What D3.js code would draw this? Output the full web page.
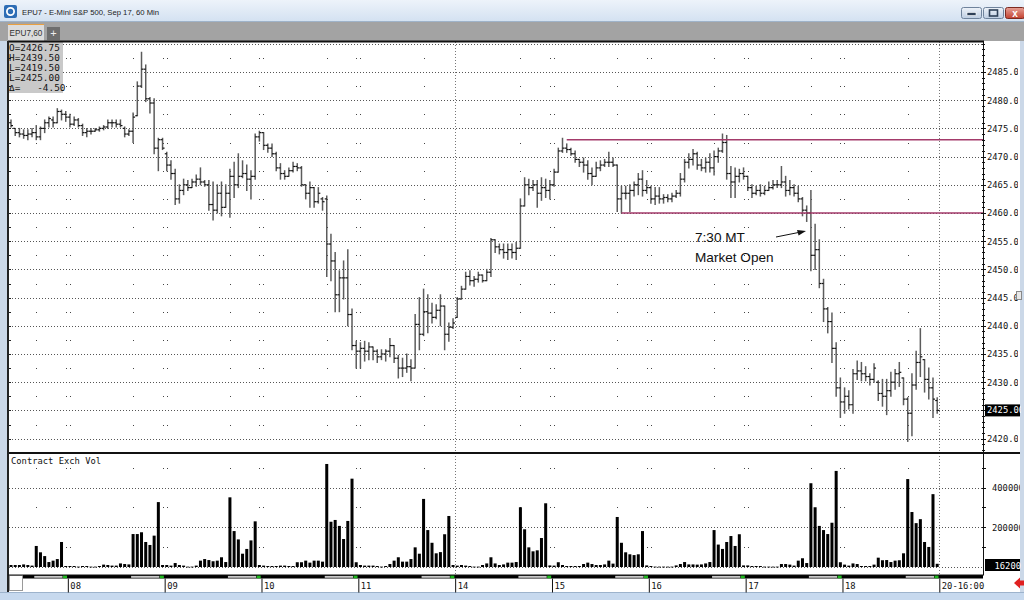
<!DOCTYPE html>
<html><head><meta charset="utf-8">
<script src="https://cdn.jsdelivr.net/npm/d3@7"></script>
<style>
html,body{margin:0;padding:0;background:#fff;overflow:hidden}
svg{display:block}
</style></head><body>
<svg id="c" width="1024" height="600"></svg>
<script>
// ---------- DATA ----------
// hourly bars [open, high, low, close]
const bars = [
[2476,2476.5,2475.25,2475.5],[2475,2475,2473.75,2474.25],[2474.25,2475,2473.5,2474],[2474,2474.75,2473.25,2473.75],
[2473.75,2474.75,2473,2474],[2474,2475,2473.5,2474.25],[2474.25,2475.5,2473,2473.5],[2473.5,2475.25,2473,2475],
[2475,2476.5,2474.25,2476],[2476,2477,2475.25,2476.75],[2476.5,2477,2475.25,2476],[2476,2478.5,2476,2478],
[2478,2478.25,2476.5,2477.5],[2477.5,2478,2476.25,2477],[2477,2477.5,2475.25,2475.75],[2475.75,2477,2475.5,2476.5],
[2476.5,2476.75,2475.25,2475.5],[2475.5,2475.75,2473.75,2474.25],[2474.25,2475,2473.5,2474.5],[2474.5,2475,2474,2474.5],
[2474.5,2475,2474.5,2474.75],[2474.75,2475.25,2474.5,2475],[2475,2475.5,2474.75,2475.25],[2475.25,2476.5,2475,2476],
[2476,2476.5,2475.25,2476],[2476,2476.5,2475.25,2475.75],[2475.75,2476.5,2475.25,2475.5],[2475,2475.25,2473.5,2474],
[2474,2474.75,2473.75,2474.5],[2474.5,2477.75,2472.5,2477],[2477.25,2483.25,2477.25,2482.5],[2482.5,2488.5,2482.25,2485.5],
[2485.5,2486.25,2479.75,2480.25],[2480.25,2480.5,2477.75,2479.5],[2479.5,2480.25,2470.5,2471.5],[2471.5,2473.25,2467.5,2473],
[2473,2473.25,2471.25,2471.5],[2470.5,2470.75,2467.5,2468.5],[2468.5,2469.25,2466,2467],[2467,2467.75,2461.5,2462.5],
[2462.5,2465,2461.75,2464],[2464,2466,2463.25,2465],[2465,2465.75,2464,2464.5],[2464.5,2466,2464.5,2465.5],
[2465.5,2466.75,2464.75,2466],[2466,2468,2465,2465.5],[2465.5,2465.75,2464.75,2465],[2465,2465.75,2460.5,2461.5],
[2461.5,2465.5,2458.75,2460.5],[2460.5,2465,2460,2463.5],[2463.5,2465.5,2459.5,2461],[2461,2465,2461,2463.5],
[2463.5,2467.75,2459.25,2466.5],[2466.5,2469,2462.75,2465],[2465,2470.5,2464.5,2466.5],[2466.5,2469.25,2466.25,2467],
[2467,2468.5,2464,2466],[2466,2467.5,2462.5,2466.5],[2466.5,2474,2466,2473.5],[2473.5,2474.5,2472.75,2474.25],
[2474.25,2474.25,2471.25,2472],[2472,2472.25,2470.75,2471.5],[2471.5,2472.25,2470,2470.5],[2470.5,2470.75,2467.5,2468],
[2468,2468.75,2466,2467],[2467,2467.5,2466,2466.5],[2466.5,2468,2466.5,2467.5],[2467.5,2469,2467.25,2468.25],
[2468.25,2468.75,2467.5,2468],[2468,2468.25,2464.75,2465],[2465,2465,2462.5,2463.5],[2463.5,2465.5,2461,2464.5],
[2464.5,2464.5,2461,2462],[2462,2464.5,2461.75,2463.5],[2462.5,2462.75,2460.5,2462],[2462.5,2463,2448.75,2454.5],
[2454.5,2456.25,2448,2451.5],[2451.5,2453,2442.5,2445.5],[2445.5,2449.75,2442.5,2448.5],[2448.5,2451.5,2444.75,2448.5],
[2448.5,2453.5,2440,2442],[2442,2443,2435.75,2436.5],[2436.5,2437.25,2432.5,2435.5],[2435.5,2437,2432.5,2436],
[2436,2437.25,2433.75,2435.5],[2435.5,2437,2434,2436.25],[2436.25,2436.25,2434,2435.5],[2435.5,2435.75,2433.5,2434.5],
[2434.5,2435.75,2434,2435],[2435,2435.75,2433.75,2435.5],[2435.5,2437.75,2434.5,2436.5],[2436.5,2436.5,2433.5,2434.25],
[2434.25,2434.75,2430.75,2432.5],[2432.5,2434.25,2431,2432.5],[2432.5,2435,2431.75,2432.75],[2432.75,2434,2430.25,2432.5],
[2432.5,2442,2432.5,2440.25],[2440.25,2445,2435.75,2438.5],[2438.5,2446.5,2438.25,2442.5],[2442.5,2445.5,2438.75,2442.25],
[2442.25,2444,2440.5,2441.5],[2441.5,2443.75,2441.25,2442.75],[2442.75,2445.5,2440,2443.5],[2443.5,2443.5,2435.75,2438.5],
[2438.5,2440.5,2437.25,2439.75],[2439.75,2441.25,2439.5,2440.5],[2441.5,2445,2441.5,2444.75],[2444.75,2447,2444.75,2446.5],
[2446.5,2449.5,2446.5,2448.75],[2448.75,2449.75,2447.25,2448],[2448,2448.75,2447,2448.25],[2448.25,2449.5,2447.75,2449],
[2449,2449,2447.75,2448],[2448,2450,2448,2449.5],[2449.5,2455.5,2448.75,2455.25],[2455.25,2455.25,2453,2454],
[2454,2454.5,2452.75,2453.5],[2453.5,2454.5,2452,2453],[2453,2454.5,2451.75,2453.5],[2453.5,2454.5,2452,2453],
[2453,2454.75,2451.75,2453.75],[2453.75,2462.5,2453.75,2461.25],[2461.25,2466.25,2461.25,2465],[2465,2466,2463.25,2464.5],
[2464.5,2465.75,2464,2465],[2465,2465.75,2461,2463.5],[2463.5,2466.25,2462.25,2464.5],[2464.5,2466,2462.75,2464],
[2464,2465.75,2462.5,2465],[2465,2467.75,2464.75,2467.25],[2467.25,2471.5,2467.25,2471],[2471,2473.25,2470.75,2471.5],
[2471.5,2472.25,2470.75,2471.25],[2471.25,2471.5,2470.25,2470.5],[2470.5,2471,2469,2469.5],[2469.5,2469.5,2468.25,2469],
[2469,2469.75,2467.25,2468.5],[2468.5,2469.25,2466,2467],[2467,2468,2465,2466.5],[2466.5,2469,2466.5,2468],
[2468,2469.25,2467.5,2468.5],[2468.5,2469.5,2468.25,2469],[2469,2470.75,2468.25,2469],[2469,2469.75,2468.25,2468.5],
[2468.5,2468.5,2460.25,2462.5],[2462.5,2464.75,2460,2463.5],[2463.5,2464.75,2462.5,2463.5],[2463.5,2465,2460.25,2464],
[2464,2465.5,2463,2465],[2465,2467,2463.25,2466],[2466,2467.5,2463,2464],[2464,2465.75,2463.5,2464.5],
[2464.5,2464.75,2461.75,2462.5],[2462.5,2464.5,2461.5,2463],[2463,2464.5,2461.75,2462.5],[2462.5,2463.25,2461.75,2462.75],
[2462.75,2463.25,2462,2462.5],[2462.5,2463.5,2462,2463],[2463,2464,2462.75,2463.5],[2463.5,2467,2463,2466],
[2466,2469.5,2465.5,2469],[2469,2470.5,2468,2469.5],[2469.5,2471.25,2468.5,2470.5],[2470.5,2470.75,2467.75,2468.5],
[2468.5,2469.5,2467.5,2468],[2468,2469.75,2467.25,2469],[2469,2470.5,2467.25,2468],[2468,2471,2466.75,2470],
[2470,2471.5,2469,2471],[2471,2474,2470.75,2472.5],[2472.5,2473.75,2466,2467],[2467,2468.25,2462.75,2465.5],
[2465.5,2468,2462.75,2466.5],[2466.5,2467.75,2465.5,2467],[2467,2468,2466,2466.5],[2466.5,2466.5,2464,2464.5],
[2464.5,2465,2462.75,2463.5],[2463.5,2464.75,2463.25,2464],[2464,2465,2463,2463.5],[2463.5,2464.75,2463.25,2464],
[2464,2465.5,2464,2464.5],[2464.5,2465.75,2464.25,2465],[2465,2465.75,2464.5,2465],[2465,2468.25,2464.5,2465.5],
[2465.5,2466.5,2463,2464],[2464,2465.75,2463.25,2464.5],[2464.5,2465,2463,2463.5],[2463.5,2464.75,2462,2462.5],
[2462.5,2462.75,2459.5,2460.5],[2460.5,2461.25,2458.5,2460],[2460,2464,2449.75,2452.5],[2452.5,2458,2450,2453.5],
[2453.5,2455.25,2446.75,2447.5],[2447.5,2448.25,2440.75,2443],[2443,2443.25,2438.75,2440.75],[2440.75,2442.25,2433.5,2436],
[2436,2437,2427.5,2429],[2429,2430.75,2423.75,2426.5],[2426.5,2429,2424.5,2427.5],[2427.5,2428.5,2425.25,2426],
[2426,2432.25,2424.5,2431.5],[2431.5,2433.75,2430.5,2432],[2432,2433.5,2430.25,2431.5],[2431.5,2432.75,2430.25,2431],
[2431,2431.5,2429.5,2430.5],[2430.5,2433.25,2430,2432.5],[2430,2430.25,2426.75,2428],[2428,2430.5,2425.75,2427.5],
[2427.5,2430.5,2424.25,2428.5],[2428.5,2431.75,2427.5,2430],[2430,2432.25,2428.75,2431.5],[2431.5,2433.5,2429.25,2431.75],
[2430.75,2430.75,2426,2427],[2427,2427.25,2419.5,2424.5],[2424.5,2431.5,2420.5,2429.5],[2429.5,2435.5,2428.75,2433.5],
[2433.5,2439.5,2431,2434.5],[2434,2434,2428.25,2430.5],[2430.5,2432.5,2427,2429],[2429,2430.75,2423.75,2427],
[2426.75,2427.25,2424.5,2425]
];
// contract volume per bar
const volumes = [
10000,10000,10000,13000,10000,7000,106000,74000,55000,25000,32000,40000,126000,5000,
5000,5000,2000,5000,5000,2000,2000,5000,12000,10000,7000,7000,18000,15000,13000,
166000,166000,175000,126000,111000,158000,327000,10000,
10000,7000,20000,10000,7000,2000,2000,7000,32000,40000,35000,29000,32000,49000,25000,
351000,181000,139000,67000,91000,134000,230000,10000,
7000,5000,5000,5000,7000,7000,5000,5000,24000,24000,32000,22000,32000,32000,27000,
519000,228000,237000,207000,141000,232000,445000,24000,
10000,7000,7000,7000,5000,2000,5000,15000,32000,49000,27000,27000,40000,99000,67000,
343000,186000,122000,69000,75000,165000,257000,10000,
7000,10000,7000,5000,2000,2000,10000,18000,49000,18000,10000,13000,22000,22000,25000,
301000,190000,99000,79000,84000,146000,321000,8000,
7000,24000,10000,5000,5000,5000,5000,15000,22000,15000,10000,10000,13000,32000,17000,
252000,122000,74000,64000,60000,64000,181000,8000,
5000,2000,2000,2000,2000,2000,8000,15000,25000,13000,13000,12000,13000,18000,25000,
186000,113000,91000,126000,156000,106000,165000,8000,
8000,5000,5000,5000,2000,2000,2000,2000,15000,15000,12000,7000,32000,44000,20000,
422000,301000,207000,186000,166000,223000,484000,24000,
12000,7000,18000,15000,5000,5000,5000,12000,47000,34000,35000,25000,32000,34000,69000,
443000,277000,221000,241000,126000,101000,367000,16200
];
const priceTicks = [2420,2425,2430,2435,2440,2445,2450,2455,2460,2465,2470,2475,2480,2485];
const volumeTicks = [200000, 400000];
const dayStarts = [14,37,60,83,106,129,152,175,198,221];       // bar index where each session begins
const dayLabels = ["08","09","10","11","14","15","16","17","18","20-16:00"];
const weekStarts = [106,221];
const rthOpens = [6,29,52,75,98,121,144,167,190,213];          // first regular-hours bar each day
const ohlcInfo = ["O=2426.75","H=2439.50","L=2419.50","L=2425.00","\u0394=   -4.50"];
const lastPrice = 2425.00, lastVolume = 16200;
const levelPrices = [2473, 2460];       // horizontal resistance / support
const levelStartBars = [132, 145];
const titleText = "EPU7 - E-Mini S&P 500, Sep 17, 60 Min";
const tabText = "EPU7,60";
const volumeTitle = "Contract Exch Vol";
const noteLines = ["7:30 MT", "Market Open"];

// ---------- LAYOUT ----------
const svg = d3.select("#c");
const L = 8, R = 983, PT = 42, PB = 453, VB = 575;
const x = d3.scaleLinear().domain([0, 220]).range([11, 937.2]);
const y = d3.scaleLinear().domain([2420, 2485]).range([438.6, 72]);
const yv = d3.scaleLinear().domain([0, 400000]).range([567, 487.6]);
const mono = "'DejaVu Sans Mono', monospace";
const sans = "'Liberation Sans', Arial, sans-serif";

const defs = svg.append("defs");
const tg = defs.append("linearGradient").attr("id","tbar").attr("x1",0).attr("y1",0).attr("x2",0).attr("y2",1);
tg.append("stop").attr("offset","0%").attr("stop-color","#edf3fa");
tg.append("stop").attr("offset","100%").attr("stop-color","#d3e1f1");
const bg = defs.append("linearGradient").attr("id","btn").attr("x1",0).attr("y1",0).attr("x2",0).attr("y2",1);
bg.append("stop").attr("offset","0%").attr("stop-color","#eef3f9");
bg.append("stop").attr("offset","100%").attr("stop-color","#bccde2");
const cg = defs.append("linearGradient").attr("id","cbtn").attr("x1",0).attr("y1",0).attr("x2",0).attr("y2",1);
cg.append("stop").attr("offset","0%").attr("stop-color","#e6a196");
cg.append("stop").attr("offset","100%").attr("stop-color","#c2402f");
defs.append("clipPath").attr("id","axclip").append("rect").attr("x",984).attr("y",40).attr("width",37).attr("height",540);
defs.append("clipPath").attr("id","plotclip").append("rect").attr("x",L+1).attr("y",PT).attr("width",R-L-1).attr("height",VB-PT);

// window chrome
svg.append("rect").attr("x",0).attr("y",0).attr("width",1024).attr("height",600).attr("fill","#fff");
svg.append("rect").attr("x",0).attr("y",0).attr("width",1024).attr("height",22).attr("fill","url(#tbar)");
svg.append("line").attr("x1",0).attr("x2",1024).attr("y1",21.5).attr("y2",21.5).attr("stroke","#9fb3c9");
svg.append("rect").attr("x",4).attr("y",5).attr("width",13).attr("height",13).attr("rx",2).attr("fill","#2d6db5");
svg.append("circle").attr("cx",10.5).attr("cy",11.5).attr("r",3.6).attr("fill","none").attr("stroke","#fff").attr("stroke-width",1.8);
svg.append("text").attr("x",22).attr("y",15).attr("font-family",sans).attr("font-size",7.7).attr("fill","#1b1b1b").text(titleText);
// window buttons
svg.append("rect").attr("x",961.5).attr("y",7.5).attr("width",20).attr("height",11).attr("rx",2).attr("fill","url(#btn)").attr("stroke","#6f839c");
svg.append("rect").attr("x",967).attr("y",12.5).attr("width",9).attr("height",3).attr("fill","#2e4058").attr("stroke","#fff").attr("stroke-width",0.6);
svg.append("rect").attr("x",983.5).attr("y",7.5).attr("width",20).attr("height",11).attr("rx",2).attr("fill","url(#btn)").attr("stroke","#6f839c");
svg.append("rect").attr("x",989.5).attr("y",10).attr("width",8).attr("height",6).attr("fill","none").attr("stroke","#2e4058").attr("stroke-width",1.6);
svg.append("rect").attr("x",1005.5).attr("y",7.5).attr("width",19).attr("height",11).attr("rx",2).attr("fill","url(#cbtn)").attr("stroke","#7c2a20");
svg.append("text").attr("x",1015).attr("y",16.5).attr("text-anchor","middle").attr("font-family",sans).attr("font-weight","bold").attr("font-size",10).attr("fill","#fff").text("x");

// tab bar
svg.append("rect").attr("x",0).attr("y",22).attr("width",1024).attr("height",19).attr("fill","#a3a3a3");
svg.append("rect").attr("x",8).attr("y",24).attr("width",36).attr("height",17).attr("fill","#dcdcdc");
svg.append("line").attr("x1",8).attr("x2",44).attr("y1",24.5).attr("y2",24.5).attr("stroke","#eaa040");
svg.append("text").attr("x",26).attr("y",36).attr("text-anchor","middle").attr("font-family",sans).attr("font-size",8.2).attr("fill","#333").text(tabText);
svg.append("rect").attr("x",47).attr("y",27).attr("width",13).attr("height",13).attr("fill","#6e6e6e");
svg.append("text").attr("x",53.5).attr("y",37).attr("text-anchor","middle").attr("font-family",sans).attr("font-size",11).attr("fill","#eee").text("+");

// side borders
svg.append("rect").attr("x",0).attr("y",41).attr("width",7).attr("height",559).attr("fill","#cbd8e8");
svg.append("rect").attr("x",1020).attr("y",41).attr("width",4).attr("height",559).attr("fill","#cbd8e8");
svg.append("rect").attr("x",0).attr("y",592).attr("width",1024).attr("height",8).attr("fill","#c7d9ee");
svg.append("line").attr("x1",0).attr("x2",1024).attr("y1",592.5).attr("y2",592.5).attr("stroke","#9db3cc");

// ---------- GRID ----------
const grid = svg.append("g");
[2490].concat(priceTicks).forEach(p => {
  const yy = Math.round(y(p)) + 0.5;
  grid.append("line").attr("x1",L+1).attr("x2",R).attr("y1",yy).attr("y2",yy)
    .attr("stroke","#555").attr("stroke-dasharray","1,2");
});
[0, 200000, 400000].forEach(v => {
  const yy = Math.round(yv(v)) + 0.5;
  grid.append("line").attr("x1",L+1).attr("x2",R).attr("y1",yy).attr("y2",yy)
    .attr("stroke","#555").attr("stroke-dasharray","1,2");
});
const halfLevels = [2487.5,2482.5,2477.5,2472.5,2467.5,2462.5,2457.5,2452.5,2447.5,2442.5,2437.5,2432.5,2427.5,2422.5];
const volHalf = [100000, 300000, 500000];
const dotCols = [];
dayStarts.forEach(s => { if (weekStarts.indexOf(s) < 0) { const xd = x(s - 0.5); dotCols.push(xd - 2, xd + 2); } });
rthOpens.forEach(i => dotCols.push(x(i)));
dotCols.forEach(xc => {
  halfLevels.forEach(p => grid.append("rect").attr("x",Math.round(xc)).attr("y",Math.round(y(p))).attr("width",1).attr("height",1).attr("fill","#444"));
  volHalf.forEach(v => grid.append("rect").attr("x",Math.round(xc)).attr("y",Math.round(yv(v))).attr("width",1).attr("height",1).attr("fill","#444"));
});
weekStarts.forEach(s => {
  const xx = Math.round(x(s - 0.5)) + 0.5;
  grid.append("line").attr("x1",xx).attr("x2",xx).attr("y1",PT).attr("y2",VB)
    .attr("stroke","#777").attr("stroke-dasharray","1,2");
});

// ---------- PRICE BARS ----------
const pb = svg.append("g").attr("clip-path","url(#plotclip)");
bars.forEach((b, i) => {
  const xx = x(i);
  pb.append("line").attr("x1",xx).attr("x2",xx).attr("y1",y(b[1])-0.5).attr("y2",y(b[2])+0.5)
    .attr("stroke","#5c5c5c").attr("stroke-width",1.5);
  pb.append("line").attr("x1",xx-2).attr("x2",xx).attr("y1",y(b[0])).attr("y2",y(b[0]))
    .attr("stroke","#111").attr("stroke-width",1.2);
  pb.append("line").attr("x1",xx).attr("x2",xx+2).attr("y1",y(b[3])).attr("y2",y(b[3]))
    .attr("stroke","#111").attr("stroke-width",1.2);
});

levelPrices.forEach((p, k) => {
  svg.append("line").attr("x1",x(levelStartBars[k])).attr("x2",R).attr("y1",y(p)).attr("y2",y(p))
    .attr("stroke","#a33a6a").attr("stroke-width",1.4);
});

// ---------- VOLUME ----------
const vg = svg.append("g");
volumes.forEach((v, i) => {
  const top = yv(v);
  vg.append("rect").attr("x",x(i)-1.5).attr("y",top).attr("width",3).attr("height",Math.max(0.8, yv(0)-top)).attr("fill","#000");
});
svg.append("text").attr("x",11).attr("y",464).attr("font-family",mono).attr("font-size",8.8).attr("fill","#111").text(volumeTitle);

// ---------- OHLC INFO BOX ----------
svg.append("rect").attr("x",L+1).attr("y",PT).attr("width",54).attr("height",51).attr("fill","#c9c9c9");
ohlcInfo.forEach((t, k) => {
  svg.append("text").attr("x",9).attr("y",50.5 + k*10.1).attr("font-family",mono).attr("font-size",9.4)
    .attr("fill","#111").attr("xml:space","preserve").style("white-space","pre").text(t);
});

// ---------- ANNOTATION ----------
svg.append("text").attr("x",695).attr("y",242).attr("font-family",sans).attr("font-size",13.6).attr("fill","#111").text(noteLines[0]);
svg.append("text").attr("x",695).attr("y",262).attr("font-family",sans).attr("font-size",13.6).attr("fill","#111").text(noteLines[1]);
svg.append("line").attr("x1",776).attr("y1",237).attr("x2",798).attr("y2",232.6).attr("stroke","#111").attr("stroke-width",1);
svg.append("path").attr("d","M806,231 L797,230 L798.6,235.6 Z").attr("fill","#111");

// ---------- FRAME ----------
svg.append("line").attr("x1",L).attr("x2",R+1).attr("y1",41.5).attr("y2",41.5).attr("stroke","#111").attr("stroke-width",2);
svg.append("line").attr("x1",L).attr("x2",1020).attr("y1",PB).attr("y2",PB).attr("stroke","#111").attr("stroke-width",2);
svg.append("line").attr("x1",L).attr("x2",L).attr("y1",41).attr("y2",592).attr("stroke","#222").attr("stroke-width",2);
d3.range(0, 28).forEach(k => {
  const p = 2487.5 - k*2.5;
  const yy = Math.round(y(p)) + 0.5;
  if (yy > PT && yy < PB) svg.append("line").attr("x1",L).attr("x2",L+3).attr("y1",yy).attr("y2",yy).attr("stroke","#222");
});

// ---------- RIGHT AXES ----------
const ax = svg.append("g");
ax.append("line").attr("x1",R+0.5).attr("x2",R+0.5).attr("y1",PT).attr("y2",VB).attr("stroke","#111");
const minor = d3.scaleLinear().domain([2417, 2490]).ticks(73);
minor.forEach(p => {
  const yy = Math.round(y(p)) + 0.5;
  if (yy < PT || yy > PB) return;
  const major = priceTicks.indexOf(p) >= 0;
  ax.append("line").attr("x1",R-(major?2:1)).attr("x2",R+(major?3:2)).attr("y1",yy).attr("y2",yy).attr("stroke","#111");
});
defs.append("clipPath").attr("id","axclip2").append("rect").attr("x",-3).attr("y",40).attr("width",34).attr("height",540);
const priceAxis = d3.axisRight(y).tickValues(priceTicks).tickSize(0).tickPadding(0).tickFormat(d3.format(".2f"));
const pa = ax.append("g").attr("transform","translate(987,0)").attr("clip-path","url(#axclip2)").call(priceAxis);
pa.select(".domain").remove();
pa.selectAll("text").attr("font-family",mono).attr("font-size",8.8).attr("fill","#111").attr("x",0).attr("dy","0.33em");
ax.append("rect").attr("x",985).attr("y",y(lastPrice)-6).attr("width",35).attr("height",12).attr("fill","#000");
ax.append("text").attr("x",987).attr("y",y(lastPrice)+3).attr("font-family",mono).attr("font-size",8.8).attr("fill","#fff")
  .attr("clip-path","url(#axclip)").text(d3.format(".2f")(lastPrice));
[100000,200000,300000,400000,500000].forEach(v => {
  const yy = Math.round(yv(v)) + 0.5;
  ax.append("line").attr("x1",R-1).attr("x2",R+3).attr("y1",yy).attr("y2",yy).attr("stroke","#111");
});
defs.append("clipPath").attr("id","axclip3").append("rect").attr("x",-8).attr("y",440).attr("width",36).attr("height",140);
const volAxis = d3.axisRight(yv).tickValues(volumeTicks).tickSize(0).tickPadding(0).tickFormat(d3.format("d"));
const va = ax.append("g").attr("transform","translate(992,0)").attr("clip-path","url(#axclip3)").call(volAxis);
va.select(".domain").remove();
va.selectAll("text").attr("font-family",mono).attr("font-size",8.8).attr("fill","#111").attr("x",0).attr("dy","0.33em");
ax.append("rect").attr("x",985).attr("y",yv(0)-8).attr("width",35).attr("height",12).attr("fill","#000");
ax.append("text").attr("x",1021).attr("y",yv(0)+1.5).attr("text-anchor","end").attr("font-family",mono).attr("font-size",8.8).attr("fill","#fff").text(lastVolume);
ax.append("rect").attr("x",1016.5).attr("y",291.5).attr("width",5).attr("height",8).attr("fill","#e8e8e8").attr("stroke","#888");

// ---------- TIME AXIS ----------
const ta = svg.append("g");
ta.append("rect").attr("x",L+1).attr("y",VB).attr("width",R-L).attr("height",17).attr("fill","#fff");
ta.append("rect").attr("x",22).attr("y",VB).attr("width",R-22).attr("height",3.5).attr("fill","#000");
rthOpens.forEach(i => {
  ta.append("rect").attr("x",x(i)-2).attr("y",VB+0.8).attr("width",x(i+6)-x(i)+3).attr("height",2).attr("fill","#c9c9c9");
  ta.append("rect").attr("x",x(i+6)+1.5).attr("y",VB+0.3).attr("width",4).attr("height",3).attr("fill","#1fb81f");
});
ta.append("rect").attr("x",L+1.5).attr("y",VB+0.5).attr("width",13).attr("height",15).attr("fill","#fff").attr("stroke","#9a9a9a");
ta.append("line").attr("x1",L).attr("x2",R+1).attr("y1",VB).attr("y2",VB).attr("stroke","#111");
const timeAxis = d3.axisBottom(x).tickValues(dayStarts.map(s => s - 0.5)).tickSize(14).tickPadding(0)
  .tickFormat((d, k) => dayLabels[k]);
const tg2 = ta.append("g").attr("transform",`translate(0,${VB+3.5})`).call(timeAxis);
tg2.select(".domain").remove();
tg2.selectAll(".tick line").attr("stroke","#111");
tg2.selectAll(".tick text").attr("font-family",mono).attr("font-size",8.8).attr("fill","#111")
  .attr("text-anchor","start").attr("x",2).attr("y",4).attr("dy","0.71em");
svg.append("path").attr("d","M1014,583 L1020,577.5 L1020,580.5 L1024,580.5 L1024,585.5 L1020,585.5 L1020,588.5 Z").attr("fill","#e02020");
</script>
</body></html>
